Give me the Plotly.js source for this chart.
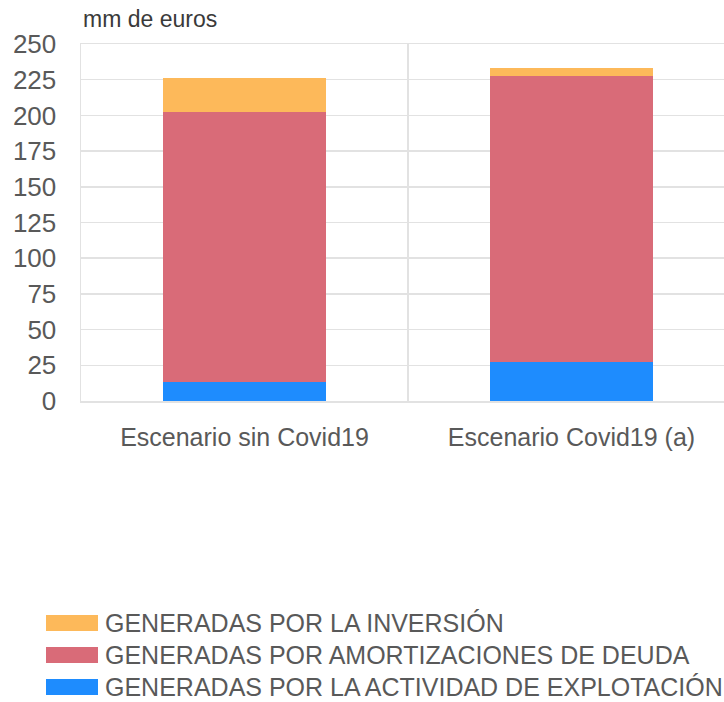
<!DOCTYPE html>
<html>
<head>
<meta charset="utf-8">
<script src="https://cdn.plot.ly/plotly-3.0.1.min.js"></script>
<style>
  html, body { margin: 0; padding: 0; background: #fff; overflow: hidden; }
  #chart { width: 740px; height: 702px; }
</style>
</head>
<body>
<div id="chart"></div>
<script>
// --- Data ---
const categories = ['Escenario sin Covid19', 'Escenario Covid19 (a)'];
const seriesNames = [
    'GENERADAS POR LA ACTIVIDAD DE EXPLOTACIÓN',
    'GENERADAS POR AMORTIZACIONES DE DEUDA',
    'GENERADAS POR LA INVERSIÓN'
];
const explotacion = [13.1, 27.1];
const amortizaciones = [189.3, 200.7];
const inversion = [23.8, 5.2];
const yTicks = [0, 25, 50, 75, 100, 125, 150, 175, 200, 225, 250];

const colors = ['#1E8CFE', '#D96B78', '#FDB95A'];
const values = [explotacion, amortizaciones, inversion];
const textColor = '#595959';
const gridColor = '#e2e2e2';

// plot area in pixels (for the hand-drawn legend)
const plotLeft = 81, plotTop = 44, plotW = 654, plotH = 357;
const px2x = px => (px - plotLeft) / plotW;
const py2y = py => (plotTop + plotH - py) / plotH;

const traces = seriesNames.map((name, i) => ({
    type: 'bar',
    x: categories,
    y: values[i],
    name: name,
    width: 0.5,
    marker: { color: colors[i], line: { width: 0 } },
    showlegend: false,
    hoverinfo: 'y'
}));

// Legend: top row is the last series
const legendRows = [623, 655, 687];
const shapes = [];
const annotations = [];
legendRows.forEach((py, r) => {
    const i = seriesNames.length - 1 - r;
    shapes.push({
        type: 'rect', xref: 'paper', yref: 'paper',
        x0: px2x(46), x1: px2x(98),
        y0: py2y(py + 8), y1: py2y(py - 8),
        fillcolor: colors[i], line: { width: 0 }
    });
    annotations.push({
        xref: 'paper', yref: 'paper',
        x: px2x(103), y: py2y(py),
        xanchor: 'left', yanchor: 'middle',
        text: seriesNames[i], showarrow: false,
        font: { size: 25, color: textColor }
    });
});

annotations.push({
    xref: 'paper', yref: 'paper',
    x: 0, y: py2y(19),
    xanchor: 'left', yanchor: 'middle',
    text: 'mm de euros', showarrow: false,
    font: { size: 23, color: '#3a3a3a' }
});

const layout = {
    width: 740,
    height: 702,
    paper_bgcolor: '#fff',
    plot_bgcolor: '#fff',
    font: { family: 'Liberation Sans, Arial, sans-serif', color: textColor },
    margin: { l: plotLeft, r: 740 - plotLeft - plotW, t: plotTop, b: 702 - plotTop - plotH },
    barmode: 'stack',
    bargap: 0.5,
    showlegend: false,
    xaxis: {
        type: 'category',
        range: [-0.5, 1.5],
        tickson: 'boundaries',
        ticks: '',
        showgrid: true,
        gridcolor: gridColor,
        gridwidth: 1.5,
        showline: true,
        mirror: true,
        linecolor: gridColor,
        linewidth: 1.5,
        zeroline: false,
        tickfont: { size: 25, color: textColor },
        ticklabelstandoff: 13
    },
    yaxis: {
        range: [0, 250],
        tickvals: yTicks,
        ticks: '',
        showgrid: true,
        gridcolor: gridColor,
        gridwidth: 1.5,
        zeroline: false,
        showline: true,
        mirror: true,
        linecolor: gridColor,
        linewidth: 1.5,
        tickfont: { size: 26, color: textColor },
        ticklabelstandoff: 18
    },
    shapes: shapes,
    annotations: annotations
};

Plotly.newPlot('chart', traces, layout, { displayModeBar: false, staticPlot: true });
</script>
</body>
</html>
